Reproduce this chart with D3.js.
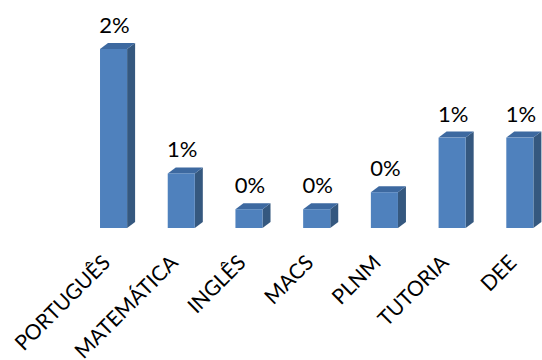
<!DOCTYPE html>
<meta charset="utf-8">
<style>
  body { margin: 0; background: #fff; }
  text { font-family: Lato, "Open Sans", sans-serif; fill: #000; }
</style>
<script src="https://d3js.org/d3.v7.min.js"></script>
<svg id="chart" width="542" height="360"></svg>
<script>

// data
var disciplinas = ["PORTUGUÊS", "MATEMÁTICA", "INGLÊS", "MACS", "PLNM", "TUTORIA", "DEE"];
var percentagens = [0.020, 0.0061, 0.0021, 0.0021, 0.0040, 0.0101, 0.0101];

var svg = d3.select("#chart"),
  width = +svg.attr("width"),
  height = +svg.attr("height");

var depthX = 8, depthY = 6;

var x = d3.scaleBand()
  .domain(disciplinas)
  .range([79.7, 553.7])
  .paddingInner(0.6)
  .paddingOuter(0.3);

var y = d3.scaleLinear()
  .domain([0, 0.02])
  .range([228, 49]);

var fmt = d3.format(".0%");

var bars = svg.append("g")
  .selectAll("g")
  .data(disciplinas)
  .enter().append("g");

// side face
bars.append("path")
  .attr("fill", "#35587f")
  .attr("d", function(d, i) {
    var x1 = x(d) + x.bandwidth(), t = y(percentagens[i]), b = y(0);
    return "M" + x1 + "," + t + "L" + (x1 + depthX) + "," + (t - depthY) +
      "L" + (x1 + depthX) + "," + (b - depthY) + "L" + x1 + "," + b + "Z";
  });

// top face
bars.append("path")
  .attr("fill", "#3d69a0")
  .attr("d", function(d, i) {
    var x0 = x(d), x1 = x0 + x.bandwidth(), t = y(percentagens[i]);
    return "M" + x0 + "," + t + "L" + (x0 + depthX) + "," + (t - depthY) +
      "L" + (x1 + depthX) + "," + (t - depthY) + "L" + x1 + "," + t + "Z";
  });

// front face
bars.append("rect")
  .attr("x", function(d) { return x(d); })
  .attr("y", function(d, i) { return y(percentagens[i]); })
  .attr("width", x.bandwidth())
  .attr("height", function(d, i) { return y(0) - y(percentagens[i]); })
  .attr("fill", "#4f81bd");

// value labels
bars.append("text")
  .attr("x", function(d) { return x(d) + x.bandwidth() / 2 + 1; })
  .attr("y", function(d, i) { return y(percentagens[i]) - 16; })
  .attr("text-anchor", "middle")
  .style("font-size", "22px")
  .text(function(d, i) { return fmt(percentagens[i]); });

// category labels
svg.append("g")
  .selectAll("text")
  .data(disciplinas)
  .enter().append("text")
  .attr("transform", function(d) {
    return "translate(" + (x(d) + x.bandwidth() / 2 - 2) + ",264) rotate(-45)";
  })
  .attr("text-anchor", "end")
  .style("font-size", "21px")
  .text(function(d) { return d; });

</script>
